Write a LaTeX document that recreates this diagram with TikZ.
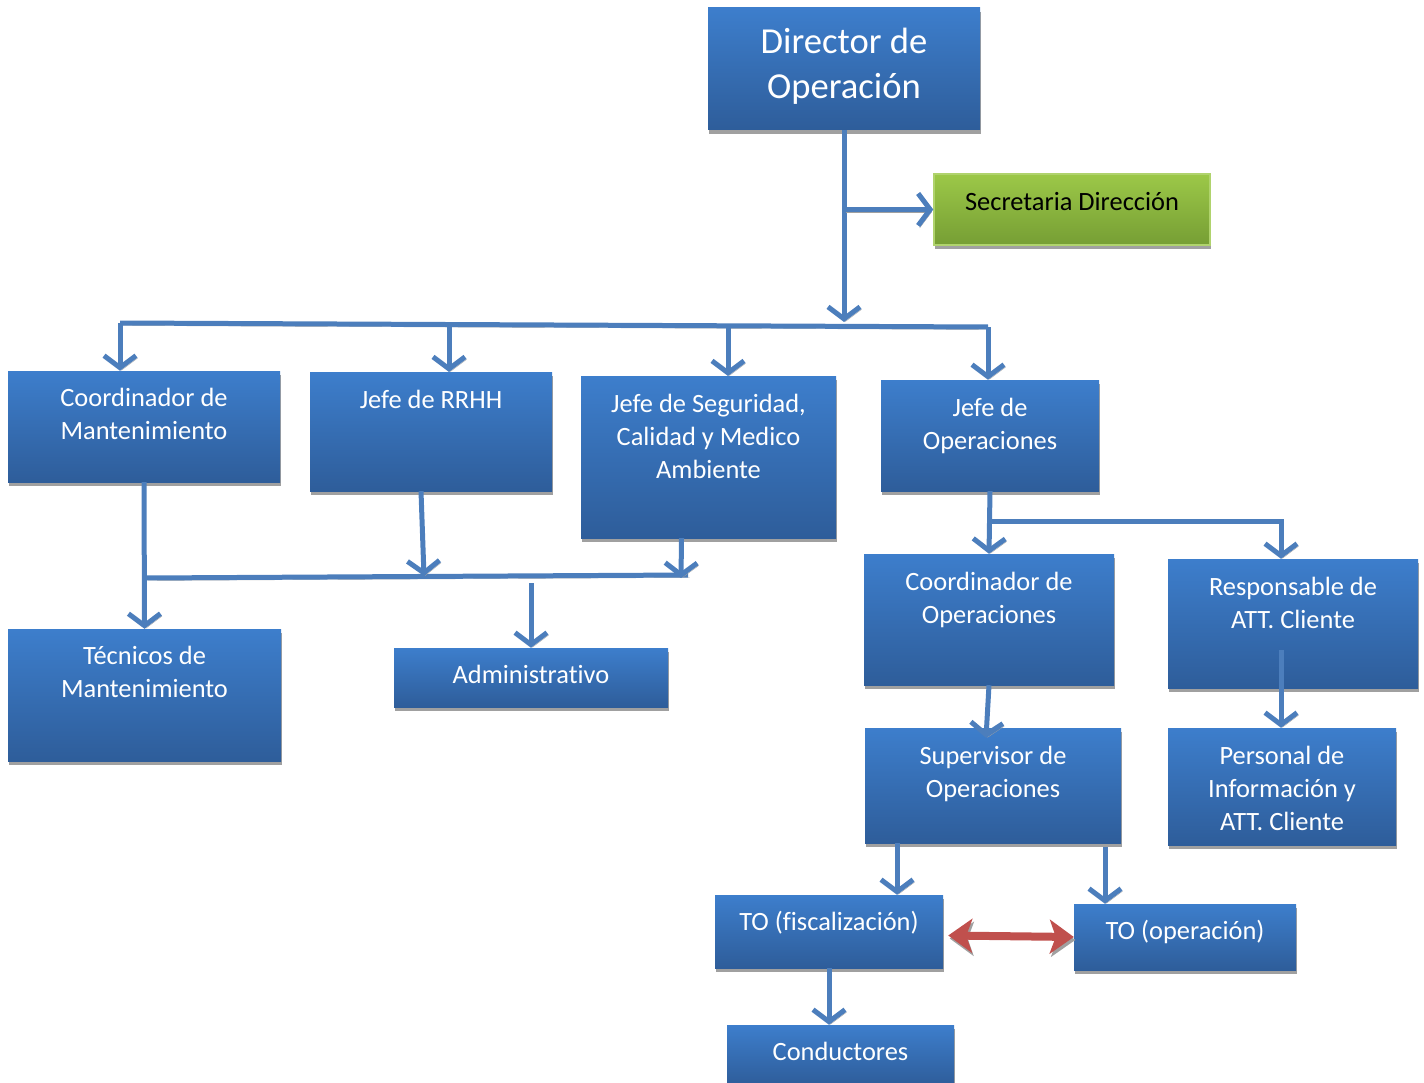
\documentclass[tikz,border=0pt]{standalone}
\usepackage{fontspec}
\setmainfont{Carlito}[Ligatures=NoCommon]
\usepackage{tikz}
\usetikzlibrary{arrows.meta}
\definecolor{BoxTop}{RGB}{61,126,204}
\definecolor{BoxBot}{RGB}{46,93,154}
\definecolor{GreenTop}{RGB}{156,200,72}
\definecolor{GreenBot}{RGB}{118,158,52}
\definecolor{LinkBlue}{RGB}{76,126,188}
\definecolor{LinkRed}{RGB}{192,80,77}
\definecolor{ShadowGray}{RGB}{160,160,160}

\begin{document}
\begin{tikzpicture}[x=1pt, y=-1pt,
    orgbox/.style={rectangle, inner sep=0pt, top color=BoxTop, bottom color=BoxBot, draw=none,
        preaction={fill=ShadowGray, transform canvas={xshift=1pt, yshift=-4pt}}},
    greenbox/.style={orgbox, top color=GreenTop, bottom color=GreenBot, draw=GreenTop!80!white, line width=1.5pt},
    orgtext/.style={anchor=base, align=center, inner sep=0pt, text=white, font=\fontsize{26.4}{33}\selectfont},
    conn/.style={draw=LinkBlue, line width=5pt, -{Straight Barb[length=12pt, width=32pt, line width=5pt]},
        preaction={draw=ShadowGray, transform canvas={xshift=1.5pt, yshift=-2.5pt}}},
    bus/.style={draw=LinkBlue, line width=5pt,
        preaction={draw=ShadowGray, transform canvas={xshift=1.5pt, yshift=-2.5pt}}},
    both/.style={draw=LinkRed, line width=8pt, {Stealth[length=24pt, width=34pt, inset=6pt]}-{Stealth[length=24pt, width=34pt, inset=6pt]},
        preaction={draw=ShadowGray, transform canvas={xshift=1.5pt, yshift=-3pt}}}]
    \useasboundingbox (0,0) rectangle (1424,1083);

    % boxes
    \node[orgbox, minimum width=272pt, minimum height=122pt] (dir) at (844,69) {};
    \node[greenbox, minimum width=276pt, minimum height=71pt] (sec) at (1072,209.5) {};
    \node[orgbox, minimum width=272pt, minimum height=111pt] (coordm) at (144,426.5) {};
    \node[orgbox, minimum width=242pt, minimum height=119pt] (rrhh) at (431,431.5) {};
    \node[orgbox, minimum width=255pt, minimum height=162pt] (seg) at (708.5,457) {};
    \node[orgbox, minimum width=218pt, minimum height=111pt] (jops) at (990,435.5) {};
    \node[orgbox, minimum width=273pt, minimum height=132pt] (tec) at (144.5,695) {};
    \node[orgbox, minimum width=274pt, minimum height=59pt] (adm) at (531,677.5) {};
    \node[orgbox, minimum width=250pt, minimum height=131pt] (coordo) at (989,619.5) {};
    \node[orgbox, minimum width=250pt, minimum height=129pt] (resp) at (1293,623.5) {};
    \node[orgbox, minimum width=256pt, minimum height=115pt] (sup) at (993,785.5) {};
    \node[orgbox, minimum width=228pt, minimum height=117pt] (pers) at (1282,786.5) {};
    \node[orgbox, minimum width=228pt, minimum height=73pt] (tofis) at (829,931.5) {};
    \node[orgbox, minimum width=222pt, minimum height=66pt] (toop) at (1185,937) {};
    \node[orgbox, minimum width=227pt, minimum height=60pt] (cond) at (840.5,1055) {};

    % texts (base = last line)
    \node[orgtext, font=\fontsize{36.6}{45}\selectfont] (dirT) at ([yshift=-91pt]dir.north) {Director de\\Operación};
    \node[orgtext, text=black] (secT) at ([yshift=-37.5pt]sec.north) {Secretaria Dirección};
    \node[orgtext] (coordmT) at ([yshift=-69pt]coordm.north) {Coordinador de\\Mantenimiento};
    \node[orgtext] (rrhhT) at ([yshift=-37pt]rrhh.north) {Jefe de RRHH};
    \node[orgtext] (segT) at ([yshift=-103pt]seg.north) {Jefe de Seguridad,\\Calidad y Medico\\Ambiente};
    \node[orgtext] (jopsT) at ([yshift=-70pt]jops.north) {Jefe de\\Operaciones};
    \node[orgtext] (tecT) at ([yshift=-69pt]tec.north) {Técnicos de\\Mantenimiento};
    \node[orgtext] (admT) at ([yshift=-36pt]adm.north) {Administrativo};
    \node[orgtext] (coordoT) at ([yshift=-70pt]coordo.north) {Coordinador de\\Operaciones};
    \node[orgtext] (respT) at ([yshift=-70pt]resp.north) {Responsable de\\ATT. Cliente};
    \node[orgtext] (supT) at ([yshift=-70pt]sup.north) {Supervisor de\\Operaciones};
    \node[orgtext] (persT) at ([yshift=-103pt]pers.north) {Personal de\\Información y\\ATT. Cliente};
    \node[orgtext] (tofisT) at ([yshift=-36pt]tofis.north) {TO (fiscalización)};
    \node[orgtext] (toopT) at ([yshift=-36pt]toop.north) {TO (operación)};
    \node[orgtext] (condT) at ([yshift=-36pt]cond.north) {Conductores};

    % top bus
    \coordinate (busL) at (120,323);
    \coordinate (busR) at (988,327);
    \coordinate (busD) at (844,322);
    \draw[bus] (busL) -- (busR);
    \draw[conn] (dir.south) -- (busD);
    \draw[conn] (dir.south |- sec.west) -- (sec.west);
    \draw[conn] (busL) -- (busL |- coordm.north);
    \draw[conn] (449,324) -- (449,372);
    \draw[conn] (728,325) -- (728,376);
    \draw[conn] (busR) -- (busR |- jops.north);

    % left group
    \coordinate (midL) at (146,578);
    \coordinate (midR) at (688,575);
    \draw[bus] (midL) -- (midR);
    \draw[conn] (coordm.south) -- (tec.north);
    \draw[conn] ([xshift=-10pt]rrhh.south) -- (424,576);
    \draw[conn] ([xshift=-27pt]seg.south) -- (681,578);
    \draw[conn] (531,583) -- (adm.north);

    % right group
    \coordinate (opsJ) at (990,521);
    \draw[conn] (jops.south) -- (coordo.north);
    \draw[conn] (opsJ) -| ([xshift=-12pt]resp.north);
    \draw[conn] ([xshift=-12pt, yshift=38pt]resp.south) -- ([xshift=-1pt]pers.north);
    \draw[conn] (coordo.south) -- ([xshift=-7pt, yshift=-10pt]sup.north);
    \draw[conn] ([xshift=68pt]tofis.north |- sup.south) -- ([xshift=68pt]tofis.north);
    \draw[conn] ([xshift=-80pt, yshift=-4pt]toop.north |- sup.south) -- ([xshift=-80pt]toop.north);
    \draw[conn] (tofis.south) -- (tofis.south |- cond.north);
    \draw[both] ([xshift=5pt, yshift=-4pt]tofis.east) -- (toop.west);
\end{tikzpicture}
\end{document}
